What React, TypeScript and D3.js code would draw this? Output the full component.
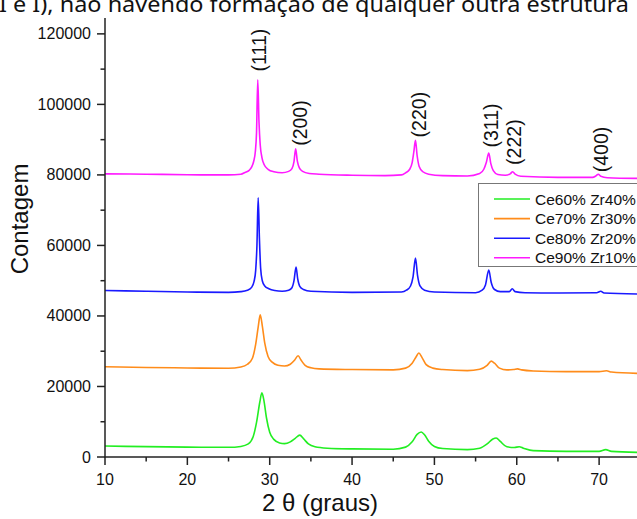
import React from "react";
import * as d3 from "d3";

// ---- data ----
const seriesNames = ["Ce60% Zr40%", "Ce70% Zr30%", "Ce80% Zr20%", "Ce90% Zr10%"];
const seriesColors = ["#22ee22", "#ff8c1a", "#1a1aff", "#ff1aff"];

// 2θ (graus), Contagem
const ce60: [number, number][] = [
  [10, 3100], [15, 2950], [20, 2800], [25, 2750], [26.5, 3000], [27.4, 3700], [28.0, 5800], [28.4, 9800],
  [28.8, 15600], [29.05, 18200], [29.3, 16000], [29.6, 11200], [30.0, 7000], [30.5, 5000], [31.2, 4000],
  [31.8, 3800], [32.5, 4300], [33.1, 5300], [33.65, 6200], [34.1, 5200], [34.7, 3700], [35.5, 2900],
  [37, 2500], [40, 2300], [45, 2200], [46.5, 2800], [47.3, 4300], [47.9, 6400], [48.4, 7100], [48.8, 6300],
  [49.3, 4500], [50, 3000], [51, 2400], [54, 2100], [55.5, 2500], [56.4, 3700], [57.1, 5100], [57.5, 5400],
  [58, 4400], [58.8, 2900], [59.7, 2700], [60.3, 2900], [60.8, 2500], [62, 1800], [66, 1600], [70, 1600],
  [70.8, 2100], [71.5, 1600], [75, 1300],
];
const ce70: [number, number][] = [
  [10, 25600], [15, 25400], [20, 25250], [25, 25150], [26.5, 25500], [27.3, 26300], [27.9, 28000],
  [28.3, 32000], [28.6, 36800], [28.85, 40300], [29.1, 37200], [29.4, 32300], [29.8, 28500], [30.3, 26900],
  [31, 26000], [31.8, 25800], [32.5, 26300], [33, 27400], [33.45, 28700], [33.8, 27500], [34.3, 26000],
  [35, 25300], [36, 25000], [40, 24800], [45, 24700], [46.5, 25200], [47.3, 26600], [47.8, 28500],
  [48.1, 29500], [48.5, 28200], [49, 26200], [49.8, 25200], [51, 24800], [54, 24500], [55.5, 24900],
  [56.4, 26000], [56.9, 27200], [57.3, 26600], [57.9, 25200], [58.8, 24700], [59.6, 24800], [60.1, 25000],
  [60.6, 24700], [62, 24400], [66, 24200], [70, 24200], [70.9, 24450], [71.5, 24100], [75, 23700],
];
const ce80: [number, number][] = [
  [10, 47200], [15, 47000], [20, 46800], [25, 46700], [26.5, 46900], [27.3, 47300], [27.8, 48100],
  [28.1, 49800], [28.3, 53000], [28.45, 60000], [28.6, 73500], [28.75, 62000], [28.9, 53500], [29.1, 50000],
  [29.4, 48500], [29.9, 47700], [30.6, 47200], [31.5, 47000], [32.3, 47300], [32.7, 48000], [32.95, 50000],
  [33.2, 53900], [33.4, 50500], [33.65, 48400], [34.1, 47500], [35, 47000], [40, 46700], [46, 46800],
  [46.6, 47300], [47.1, 48500], [47.4, 51000], [47.7, 56400], [47.95, 51500], [48.25, 48500], [48.8, 47300],
  [50, 46800], [55, 46600], [55.8, 47300], [56.2, 48800], [56.6, 53000], [56.9, 49500], [57.3, 47500],
  [58, 46900], [59.1, 46900], [59.45, 47700], [59.8, 46900], [61, 46600], [65, 46500], [69.7, 46600],
  [70.2, 47000], [70.6, 46500], [75, 46200],
];
const ce90: [number, number][] = [
  [10, 80300], [15, 80200], [20, 80050], [25, 80000], [26.5, 80200], [27.0, 80700], [27.5, 81300],
  [27.8, 82200], [28.05, 83800], [28.25, 86500], [28.4, 92000], [28.55, 107000], [28.7, 95000],
  [28.85, 88500], [29.05, 85000], [29.35, 82800], [29.8, 81600], [30.5, 80900], [31.5, 80600], [32.3, 81000],
  [32.7, 81800], [32.95, 83800], [33.15, 87400], [33.35, 84000], [33.6, 82000], [34.0, 81000], [34.8, 80400],
  [36, 80200], [40, 79900], [44, 79800], [46, 80000], [46.5, 80600], [47.0, 81600], [47.3, 83500],
  [47.5, 86500], [47.7, 89800], [47.9, 85500], [48.15, 82400], [48.6, 80900], [49.3, 80200], [51, 79800],
  [54, 79700], [55.5, 80400], [56.0, 81600], [56.3, 83500], [56.6, 86200], [56.85, 83200], [57.15, 81200],
  [57.7, 80100], [58.6, 79900], [59.2, 80300], [59.5, 80900], [59.8, 80200], [60.5, 79600], [65, 79300],
  [69.2, 79300], [69.6, 79700], [69.9, 80200], [70.2, 79600], [71, 79200], [75, 79000],
];
const seriesData = [ce60, ce70, ce80, ce90];

const peakLabels = ["(111)", "(200)", "(220)", "(311)", "(222)", "(400)"];
const peakLabelX = [28.7, 33.7, 48.15, 56.9, 59.7, 70.25];
const peakLabelY = [115400, 94700, 97100, 94000, 89300, 87200];

const xMajorTicks = [10, 20, 30, 40, 50, 60, 70];
const xMinorTicks = [15, 25, 35, 45, 55, 65];
const yMajorTicks = [0, 20000, 40000, 60000, 80000, 100000, 120000];
const yMinorTicks = [10000, 30000, 50000, 70000, 90000, 110000];

const xTitle = "2 θ (graus)";
const yTitle = "Contagem";
const headerText = "I e I), não havendo formação de qualquer outra estrutura";

// ---- layout ----
const W = 637;
const H = 519;
const FONT = "'Liberation Sans', Arial, sans-serif";

export default function App() {
  const x = d3.scaleLinear().domain([10, 74.6]).range([105, 637]);
  const y = d3.scaleLinear().domain([0, 124500]).range([457, 18]);
  const line = d3
    .line<[number, number]>()
    .x((d) => x(d[0]))
    .y((d) => y(d[1]))
    .curve(d3.curveMonotoneX);

  const axisColor = "#222";
  const x0 = x(10);
  const y0 = y(0);

  return (
    <svg
      width={W}
      height={H}
      style={{ position: "absolute", left: 0, top: 0, display: "block", background: "#fff" }}
      fontFamily={FONT}
    >
      <rect x={0} y={0} width={W} height={H} fill="#fff" />
      <text
        x={-1}
        y={12}
        fontFamily="'Noto Sans', 'Open Sans', sans-serif"
        fontSize={21}
        textLength={630}
        lengthAdjust="spacingAndGlyphs"
        fill="#111"
      >
        {headerText}
      </text>

      {/* series */}
      <g clipPath="none">
        {seriesData.map((s, i) => (
          <path key={i} d={line(s) || ""} fill="none" stroke={seriesColors[i]} strokeWidth={1.6} strokeLinejoin="round" />
        ))}
      </g>

      {/* peak labels */}
      {peakLabels.map((t, i) => (
        <text
          key={t}
          transform={`translate(${x(peakLabelX[i])},${y(peakLabelY[i])}) rotate(-90)`}
          textAnchor="middle"
          dominantBaseline="central"
          fontSize={19.5}
          fill="#111"
        >
          {t}
        </text>
      ))}

      {/* axes */}
      <line x1={x0} x2={x0} y1={y(124500)} y2={y0 + 0.5} stroke={axisColor} strokeWidth={1.5} />
      <line x1={x0 - 0.5} x2={W} y1={y0} y2={y0} stroke={axisColor} strokeWidth={1.5} />
      {yMajorTicks.map((t) => (
        <g key={"ym" + t}>
          <line x1={x0 - 8} x2={x0} y1={y(t)} y2={y(t)} stroke={axisColor} strokeWidth={1.5} />
          <text x={x0 - 14} y={y(t)} textAnchor="end" dominantBaseline="central" fontSize={16} fill="#111">
            {t}
          </text>
        </g>
      ))}
      {yMinorTicks.map((t) => (
        <line key={"yn" + t} x1={x0 - 4.5} x2={x0} y1={y(t)} y2={y(t)} stroke={axisColor} strokeWidth={1.5} />
      ))}
      {xMajorTicks.map((t) => (
        <g key={"xm" + t}>
          <line x1={x(t)} x2={x(t)} y1={y0} y2={y0 + 8} stroke={axisColor} strokeWidth={1.5} />
          <text x={x(t)} y={y0 + 28} textAnchor="middle" fontSize={16} fill="#111">
            {t}
          </text>
        </g>
      ))}
      {xMinorTicks.map((t) => (
        <line key={"xn" + t} x1={x(t)} x2={x(t)} y1={y0} y2={y0 + 4.5} stroke={axisColor} strokeWidth={1.5} />
      ))}

      <text x={320} y={511} textAnchor="middle" fontSize={24} fill="#111">
        {xTitle}
      </text>
      <text transform="translate(28,219) rotate(-90)" textAnchor="middle" fontSize={24} fill="#111">
        {yTitle}
      </text>

      {/* legend */}
      <g>
        <rect x={478.5} y={183.5} width={170} height={83} fill="#fff" stroke="#777" strokeWidth={1} />
        {seriesNames.map((n, i) => {
          const ly = 199 + i * 19.6;
          return (
            <g key={n}>
              <line x1={494} x2={530} y1={ly} y2={ly} stroke={seriesColors[i]} strokeWidth={1.6} />
              <text x={535} y={ly} dominantBaseline="central" fontSize={15.5} fill="#111">
                {n}
              </text>
            </g>
          );
        })}
      </g>
    </svg>
  );
}
